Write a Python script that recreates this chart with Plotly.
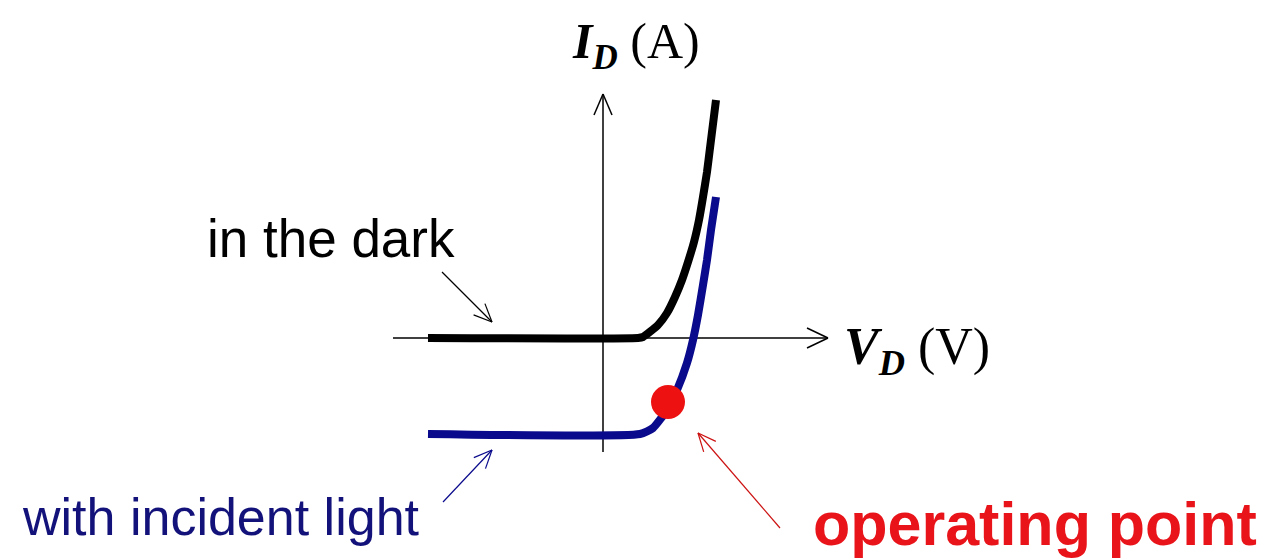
import plotly.graph_objects as go
import numpy as np

# ---- data (V in arbitrary units, I in arbitrary units) ----
dark_v = [-1.76, 0.34, 0.39, 0.54, 0.63, 0.71, 0.78, 0.84, 0.90, 0.95, 0.99, 1.03, 1.06, 1.09, 1.12]
dark_i = [0.00, 0.00, 0.01, 0.13, 0.25, 0.41, 0.58, 0.76, 0.96, 1.18, 1.41, 1.66, 1.90, 2.14, 2.38]

light_v = [-1.76, 0.36, 0.49, 0.63, 0.73, 0.83, 0.89, 0.94, 0.99, 1.03, 1.07, 1.12]
light_i = [-0.96, -0.96, -0.90, -0.72, -0.52, -0.25, -0.02, 0.23, 0.53, 0.78, 1.08, 1.41]

op_v = [0.64]
op_i = [-0.64]

W, H = 1276, 560
X0, Y0, S = 604, 338, 100.0  # origin pixel and pixels per unit


def px2d(px, py):
    return px / S - X0 / S, Y0 / S - py / S


fig = go.Figure()
fig.add_trace(go.Scatter(x=dark_v, y=dark_i, mode="lines", line=dict(color="#000000", width=8, shape="spline", smoothing=0.5), hoverinfo="skip"))
fig.add_trace(go.Scatter(x=light_v, y=light_i, mode="lines", line=dict(color="#0a0a8c", width=8, shape="spline", smoothing=0.5), hoverinfo="skip"))
fig.add_trace(go.Scatter(x=op_v, y=op_i, mode="markers", marker=dict(color="#ee1111", size=34, line=dict(width=0)), hoverinfo="skip"))

shapes = []


def arrow(x0, y0, x1, y1, color, width=1.5, hl=20, hw=9):
    a0 = px2d(x0, y0)
    a1 = px2d(x1, y1)
    shapes.append(dict(type="line", xref="x", yref="y", x0=a0[0], y0=a0[1], x1=a1[0], y1=a1[1],
                       line=dict(color=color, width=width), layer="below"))
    d = np.array([x1 - x0, y1 - y0], dtype=float)
    d /= np.hypot(*d)
    n = np.array([-d[1], d[0]])
    for sgn in (1, -1):
        b = np.array([x1, y1]) - d * hl + sgn * n * hw
        bb = px2d(b[0], b[1])
        shapes.append(dict(type="line", xref="x", yref="y", x0=bb[0], y0=bb[1], x1=a1[0], y1=a1[1],
                           line=dict(color=color, width=width), layer="below"))


# axes
arrow(393, 338, 828, 338, "#000000", width=1.5, hl=21, hw=10)
arrow(603, 452, 603, 94, "#000000", width=1.5, hl=21, hw=9)
# annotation arrows
arrow(442, 272, 492, 322, "#000000", width=1.2, hl=18, hw=8)
arrow(443, 502, 492, 450, "#0a0a8c", width=1.2, hl=18, hw=8)
arrow(780, 528, 698, 433, "#cc1111", width=1.2, hl=18, hw=8)

annotations = []


def label(px, py, text, size, color, family, xanchor="center"):
    x, y = px2d(px, py)
    annotations.append(dict(x=x, y=y, xref="x", yref="y", text=text, showarrow=False,
                            font=dict(size=size, color=color, family=family),
                            xanchor=xanchor, yanchor="middle"))


label(636, 45, "<b><i>I</i></b><sub><b><i>D</i></b></sub> (A)", 50, "#000000", "Liberation Serif")
label(917, 350, "<b><i>V</i></b><sub><b><i>D</i></b></sub> (V)", 52, "#000000", "Liberation Serif")
label(331, 238, "in the dark", 53, "#000000", "Liberation Sans")
label(221, 517, "with incident light", 52, "#12127a", "Liberation Sans")
label(1035, 524, "<b>operating point</b>", 61, "#e8141a", "Liberation Sans")

xr = list(px2d(0, 0))
yr = list(px2d(W, H))
fig.update_layout(
    width=W, height=H,
    margin=dict(l=0, r=0, t=0, b=0),
    paper_bgcolor="white", plot_bgcolor="white",
    showlegend=False,
    xaxis=dict(range=[xr[0], yr[0]], visible=False, fixedrange=True),
    yaxis=dict(range=[yr[1], xr[1]], visible=False, fixedrange=True),
    shapes=shapes,
    annotations=annotations,
)

fig.write_html("out.html", config={"displayModeBar": False},
               post_script="document.body.style.margin='0';document.body.style.overflow='hidden';")
